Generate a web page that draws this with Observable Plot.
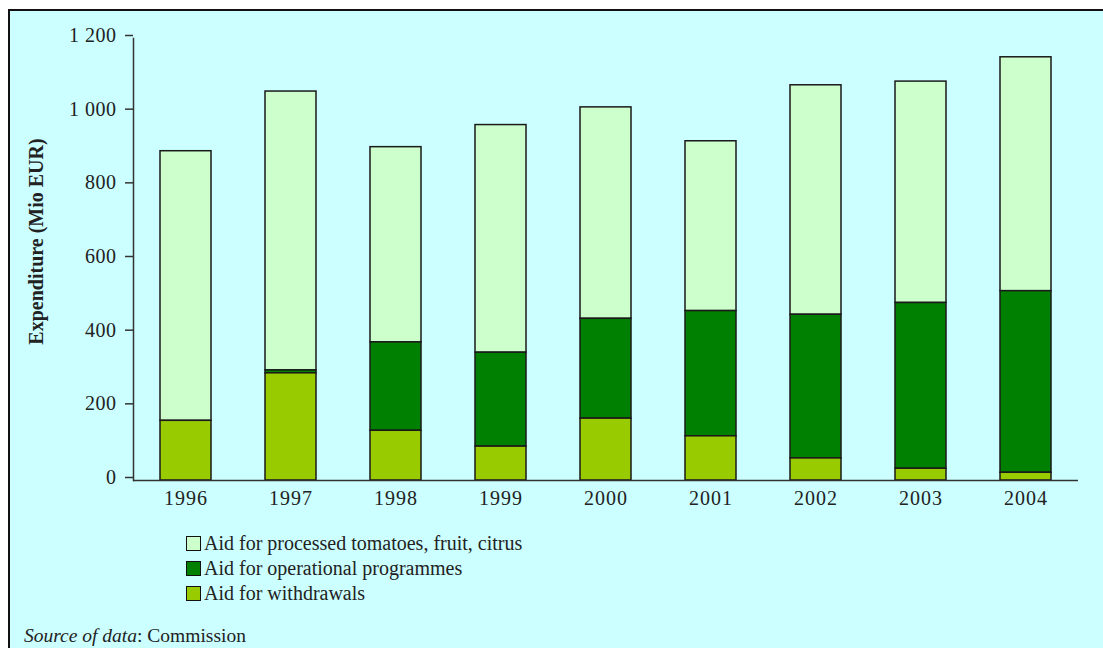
<!DOCTYPE html>
<html>
<head>
<meta charset="utf-8">
<script src="https://cdn.jsdelivr.net/npm/d3@7"></script>
<script src="https://cdn.jsdelivr.net/npm/@observablehq/plot@0.6"></script>
<style>
  html, body { margin: 0; padding: 0; background: #ffffff; }
  body { width: 1103px; height: 648px; overflow: hidden; position: relative; font-family: "Liberation Serif", serif; color: #222; }
  #box { position: absolute; left: 8px; top: 9px; width: 1200px; height: 700px; border: 2px solid #111; background: #ccffff; }
  #chart { position: absolute; left: 0; top: 0; }
  #legend { position: absolute; left: 186px; top: 531px; font-size: 20px; line-height: 25px; }
  .row { display: flex; align-items: center; height: 25px; }
  .sw { width: 13px; height: 13px; border: 1px solid #111; margin-right: 3px; }
  #source { position: absolute; left: 24px; top: 625px; font-size: 19.5px; }
</style>
</head>
<body>
<div id="box"></div>
<div id="chart"></div>
<div id="legend"></div>
<div id="source"></div>
<script>
const years = ["1996", "1997", "1998", "1999", "2000", "2001", "2002", "2003", "2004"];
const withdrawals = [162, 291, 135, 92, 168, 120, 60, 32, 21];
const operational = [0, 8, 240, 255, 271, 340, 390, 450, 493];
const processed = [732, 757, 530, 618, 574, 461, 623, 601, 635];
const seriesNames = [
  "Aid for processed tomatoes, fruit, citrus",
  "Aid for operational programmes",
  "Aid for withdrawals"
];
const seriesColors = ["#ccffcc", "#008000", "#99cc00"];
const yTicks = [0, 200, 400, 600, 800, 1000, 1200];
const yTickLabels = ["0", "200", "400", "600", "800", "1 000", "1 200"];
const yLabel = "Expenditure (Mio EUR)";
const sourceItalic = "Source of data";
const sourceText = ": Commission";

const seriesValues = [processed, operational, withdrawals];
const rows = [];
years.forEach((yr, i) => {
  seriesNames.forEach((s, j) => rows.push({year: yr, series: s, value: seriesValues[j][i]}));
});

const chart = Plot.plot({
  width: 1103,
  height: 513,
  marginLeft: 133,
  marginRight: 25,
  marginTop: 38,
  marginBottom: 33,
  style: {fontFamily: "Liberation Serif", background: "transparent", color: "#222", overflow: "visible"},
  x: {domain: years, paddingInner: 0.51, paddingOuter: 0.25, align: 0.5},
  y: {domain: [0, 1200]},
  color: {domain: seriesNames, range: seriesColors},
  marks: [
    Plot.barY(rows, {
      x: "year", y: "value", fill: "series",
      order: [seriesNames[2], seriesNames[1], seriesNames[0]],
      stroke: "#1a1a1a", strokeWidth: 1.5
    }),
    Plot.ruleY([0], {stroke: "#333", strokeWidth: 1.5}),
    Plot.frame({anchor: "left", stroke: "#333", strokeWidth: 1.5}),
    Plot.axisY({
      ticks: yTicks,
      tickFormat: d => yTickLabels[yTicks.indexOf(d)],
      tickSize: 8, tickPadding: 9, fontSize: 20, label: null,
      stroke: "#333", strokeWidth: 1.5, dy: -3
    }),
    Plot.axisX({tickSize: 0, tickPadding: 10, fontSize: 20, label: null}),
    Plot.text([yLabel], {
      text: d => d, frameAnchor: "left", textAnchor: "middle", rotate: -90,
      dx: -97, dy: -18, fontSize: 20, fontWeight: "bold", fill: "#222"
    })
  ]
});
d3.select(chart).selectAll('[aria-label="x-axis tick label"] text').attr("letter-spacing", "1px");
d3.select(chart).selectAll('[aria-label="y-axis tick label"] text').attr("letter-spacing", "0.5px");
document.getElementById("chart").appendChild(chart);

const legend = d3.select("#legend");
seriesNames.forEach((s, j) => {
  const r = legend.append("div").attr("class", "row");
  r.append("div").attr("class", "sw").style("background", seriesColors[j]);
  r.append("span").text(s);
});
const src = d3.select("#source");
src.append("i").text(sourceItalic);
src.append("span").text(sourceText);
</script>
</body>
</html>
